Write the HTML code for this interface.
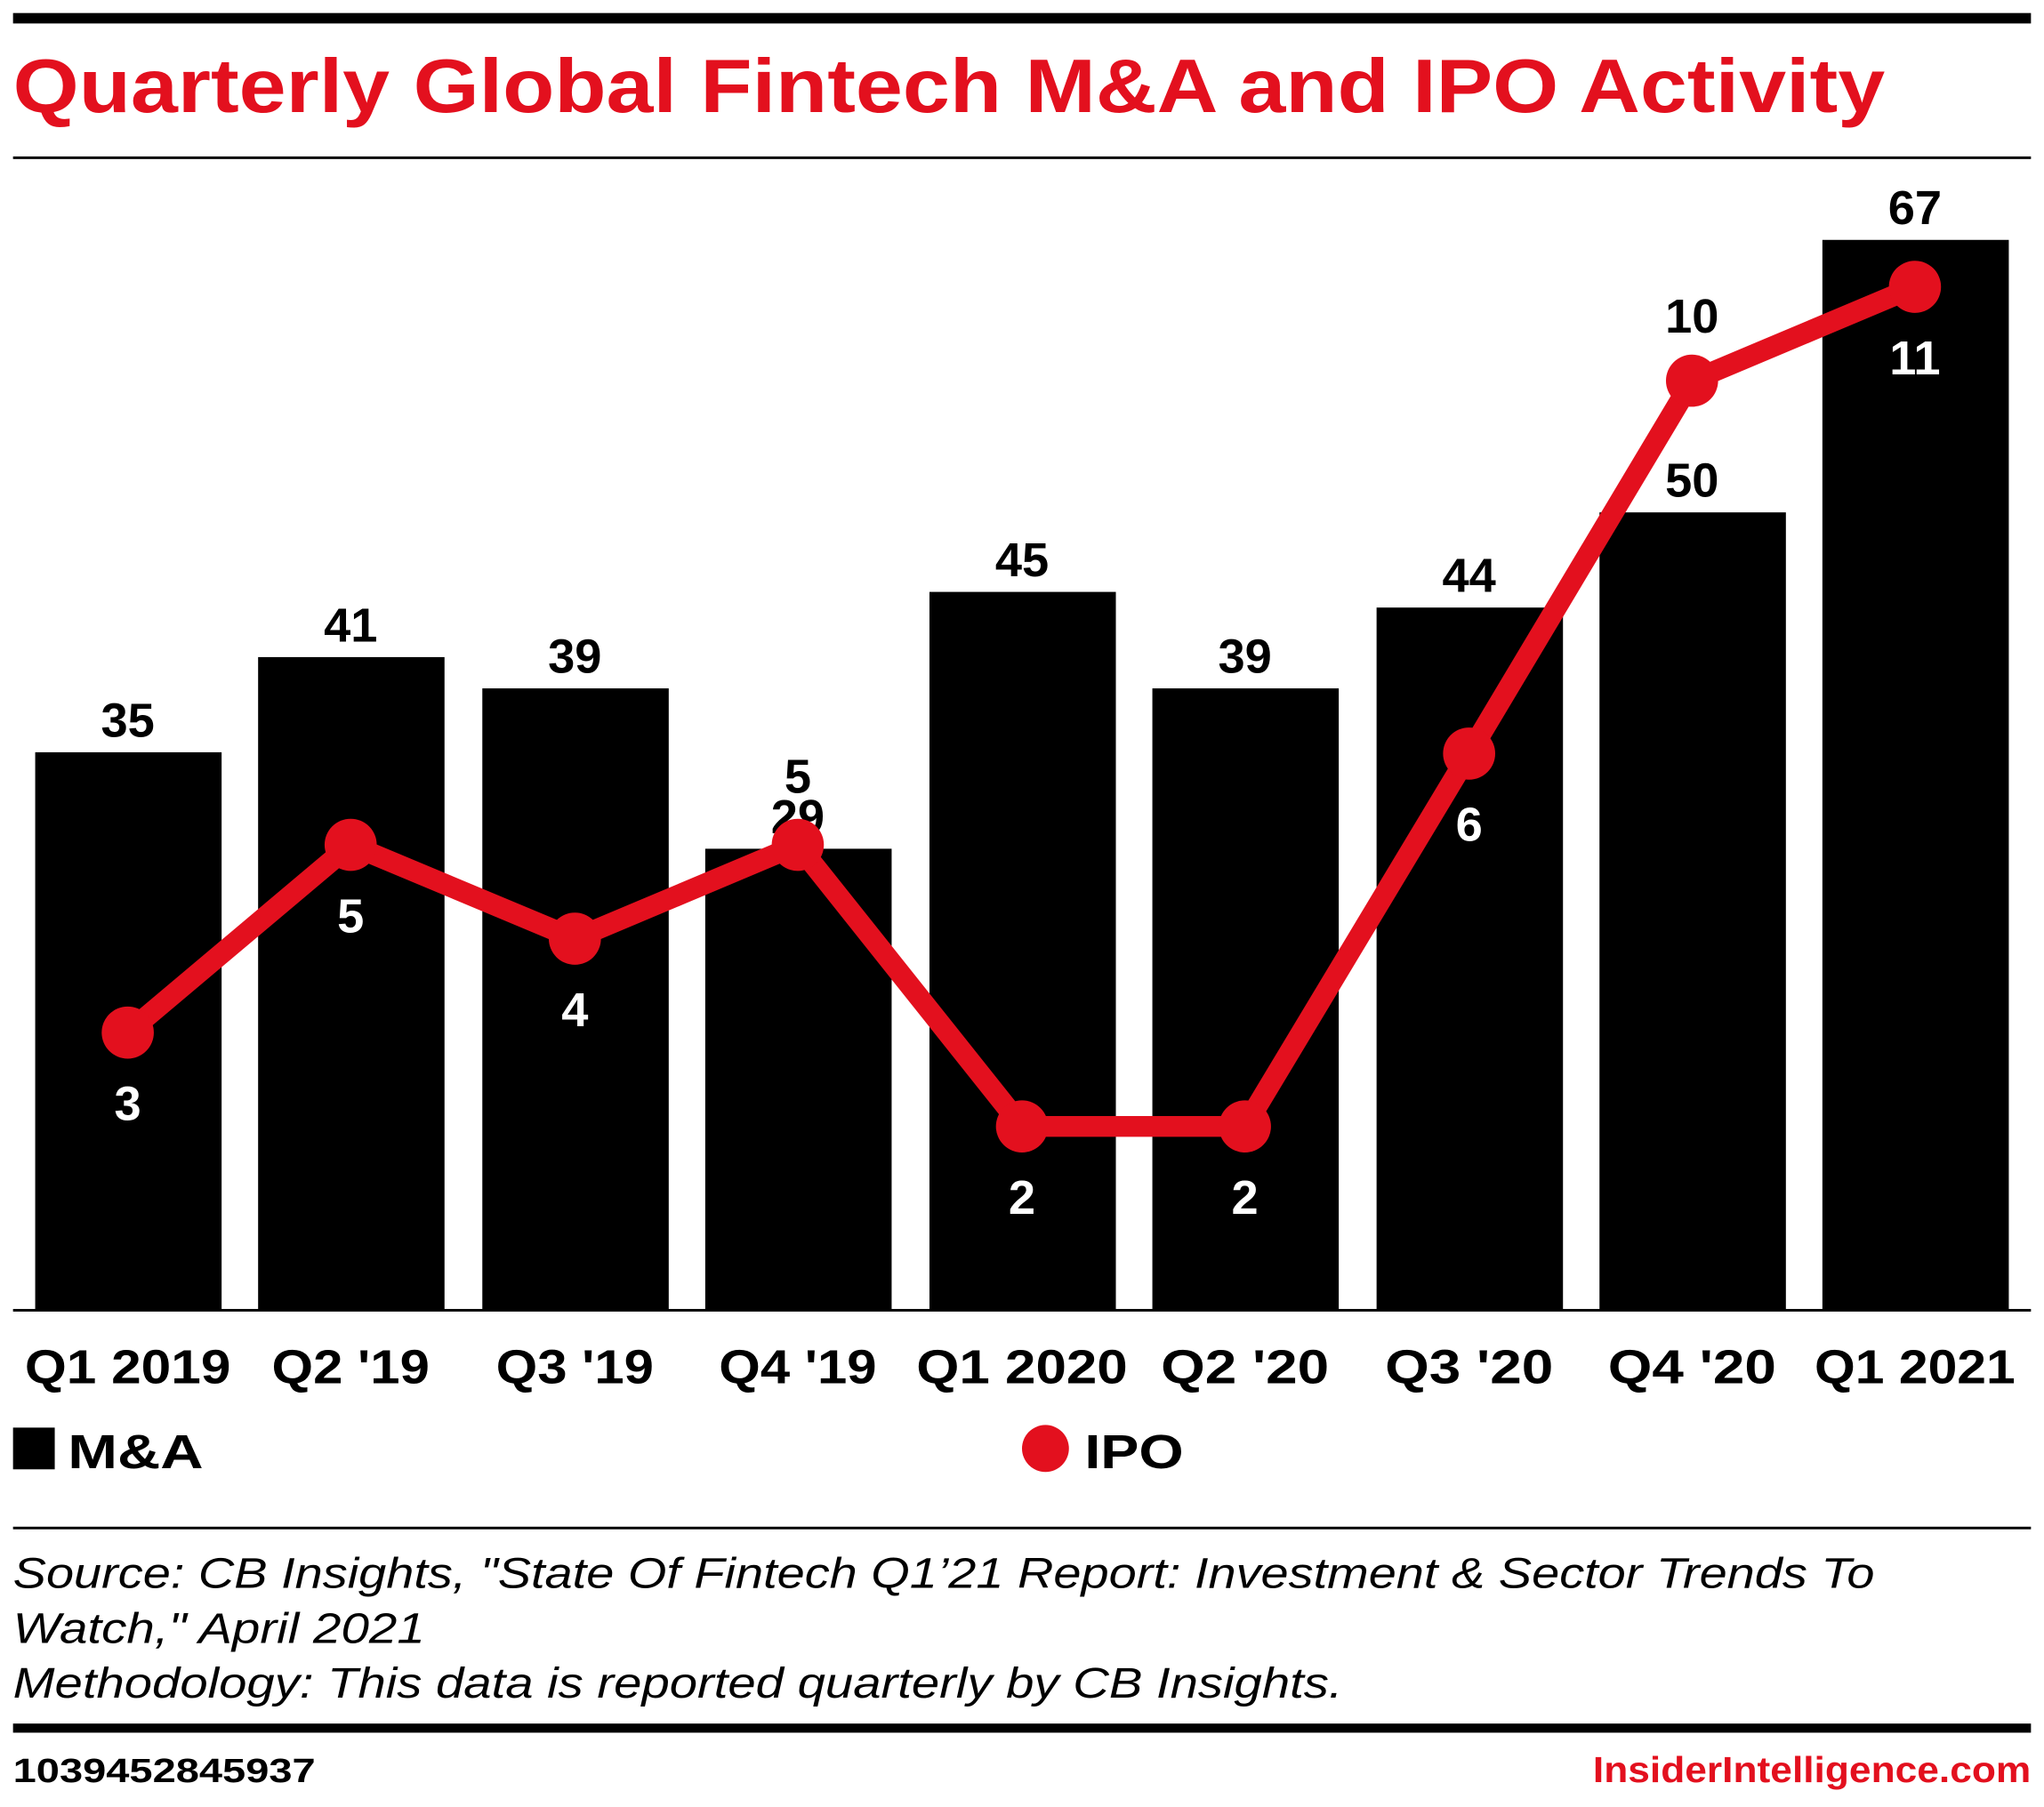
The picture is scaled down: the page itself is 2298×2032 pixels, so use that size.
<!DOCTYPE html>
<html><head><meta charset="utf-8"><style>
html,body{margin:0;padding:0;background:#fff;}
svg{display:block;}
text{font-family:"Liberation Sans",sans-serif;}
.b{font-weight:bold;}
</style></head><body>
<svg width="2298" height="2032" viewBox="0 0 1568 1386" xmlns="http://www.w3.org/2000/svg" preserveAspectRatio="none">
<rect x="0" y="0" width="1568" height="1386" fill="#fff"/>
<rect x="10" y="10" width="1548" height="8" fill="#000"/>
<text x="10" y="86" class="b" font-size="58" fill="#e3101e" textLength="1436" lengthAdjust="spacingAndGlyphs">Quarterly Global Fintech M&amp;A and IPO Activity</text>
<rect x="10" y="120" width="1548" height="2" fill="#000"/>
<g fill="#000">
<rect x="27" y="577" width="143" height="428"/>
<rect x="198" y="504" width="143" height="501"/>
<rect x="370" y="528" width="143" height="477"/>
<rect x="541" y="651" width="143" height="354"/>
<rect x="713" y="454" width="143" height="551"/>
<rect x="884" y="528" width="143" height="477"/>
<rect x="1056" y="466" width="143" height="539"/>
<rect x="1227" y="393" width="143" height="612"/>
<rect x="1398" y="184" width="143" height="821"/>
</g>
<rect x="10" y="1004" width="1548" height="2" fill="#000"/>
<g class="b" font-size="37" text-anchor="middle" fill="#000">
<text x="98" y="565">35</text>
<text x="269" y="492">41</text>
<text x="441" y="516">39</text>
<text x="612" y="639">29</text>
<text x="784" y="442">45</text>
<text x="955" y="516">39</text>
<text x="1127" y="454">44</text>
<text x="1298" y="381">50</text>
<text x="1469" y="172">67</text>
</g>
<polyline points="98,792 269,648 441,720 612,648 784,864 955,864 1127,578 1298,292 1469,220" fill="none" stroke="#e3101e" stroke-width="16" stroke-linejoin="round"/>
<g fill="#e3101e">
<circle cx="98" cy="792" r="20"/><circle cx="269" cy="648" r="20"/><circle cx="441" cy="720" r="20"/>
<circle cx="612" cy="648" r="20"/><circle cx="784" cy="864" r="20"/><circle cx="955" cy="864" r="20"/>
<circle cx="1127" cy="578" r="20"/><circle cx="1298" cy="292" r="20"/><circle cx="1469" cy="220" r="20"/>
</g>
<g class="b" font-size="37" text-anchor="middle">
<text x="98" y="859" fill="#fff">3</text>
<text x="269" y="715" fill="#fff">5</text>
<text x="441" y="787" fill="#fff">4</text>
<text x="612" y="608" fill="#000">5</text>
<text x="784" y="931" fill="#fff">2</text>
<text x="955" y="931" fill="#fff">2</text>
<text x="1127" y="645" fill="#fff">6</text>
<text x="1298" y="255" fill="#000">10</text>
<text x="1469" y="287" fill="#fff">11</text>
</g>
<g class="b" font-size="37" text-anchor="middle" fill="#000" lengthAdjust="spacingAndGlyphs">
<text x="98" y="1061" textLength="158" lengthAdjust="spacingAndGlyphs">Q1 2019</text>
<text x="269" y="1061" textLength="121" lengthAdjust="spacingAndGlyphs">Q2 '19</text>
<text x="441" y="1061" textLength="121" lengthAdjust="spacingAndGlyphs">Q3 '19</text>
<text x="612" y="1061" textLength="121" lengthAdjust="spacingAndGlyphs">Q4 '19</text>
<text x="784" y="1061" textLength="162" lengthAdjust="spacingAndGlyphs">Q1 2020</text>
<text x="955" y="1061" textLength="129" lengthAdjust="spacingAndGlyphs">Q2 '20</text>
<text x="1127" y="1061" textLength="129" lengthAdjust="spacingAndGlyphs">Q3 '20</text>
<text x="1298" y="1061" textLength="129" lengthAdjust="spacingAndGlyphs">Q4 '20</text>
<text x="1469" y="1061" textLength="154" lengthAdjust="spacingAndGlyphs">Q1 2021</text>
</g>
<rect x="10" y="1095" width="32" height="32" fill="#000"/>
<text x="52" y="1126" class="b" font-size="37" fill="#000" textLength="104" lengthAdjust="spacingAndGlyphs">M&amp;A</text>
<circle cx="802" cy="1111" r="18" fill="#e3101e"/>
<text x="832" y="1126" class="b" font-size="37" fill="#000" textLength="76" lengthAdjust="spacingAndGlyphs">IPO</text>
<rect x="10" y="1171" width="1548" height="2" fill="#000"/>
<g font-size="33" font-style="italic" fill="#000">
<text x="10" y="1218" textLength="1428" lengthAdjust="spacingAndGlyphs">Source: CB Insights, "State Of Fintech Q1’21 Report: Investment &amp; Sector Trends To</text>
<text x="10" y="1260" textLength="316" lengthAdjust="spacingAndGlyphs">Watch," April 2021</text>
<text x="10" y="1302" textLength="1020" lengthAdjust="spacingAndGlyphs">Methodology: This data is reported quarterly by CB Insights.</text>
</g>
<rect x="10" y="1322" width="1548" height="7" fill="#000"/>
<text x="10" y="1367" class="b" font-size="26" fill="#000" textLength="232" lengthAdjust="spacingAndGlyphs">1039452845937</text>
<text x="1558" y="1367" class="b" font-size="28" fill="#e3101e" text-anchor="end" textLength="336" lengthAdjust="spacingAndGlyphs">InsiderIntelligence.com</text>
</svg>
</body></html>
